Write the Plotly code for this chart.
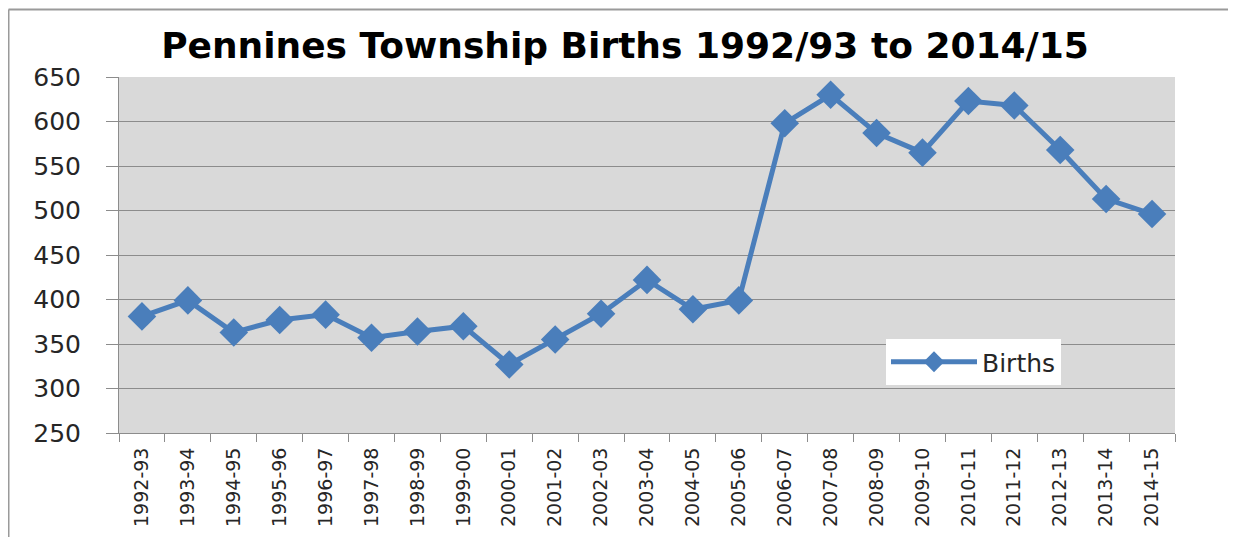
import plotly.graph_objects as go

years = ["1992-93", "1993-94", "1994-95", "1995-96", "1996-97", "1997-98", "1998-99",
         "1999-00", "2000-01", "2001-02", "2002-03", "2003-04", "2004-05", "2005-06",
         "2006-07", "2007-08", "2008-09", "2009-10", "2010-11", "2011-12", "2012-13",
         "2013-14", "2014-15"]
births = [381, 399, 363, 377, 383, 357, 364, 370, 327, 355, 384, 422, 389, 399,
          598, 630, 587, 565, 623, 618, 568, 513, 496]

title_text = "Pennines Township Births 1992/93 to 2014/15"
series_name = "Births"
y_ticks = [250, 300, 350, 400, 450, 500, 550, 600, 650]

OFF = 8  # page body margin
W, H = 1236 - OFF, 537 - OFF
# plot area in page pixels: left 119, right 1175, top 77, bottom 433
L, T = 119 - OFF, 77 - OFF
R = W - (1175 - OFF)
B = H - (433 - OFF)
pw, ph = W - L - R, H - T - B

def px_x(p):
    return (p - OFF - L) / pw

def px_y(p):
    return (H - B - (p - OFF)) / ph

blue = "#4a7ebb"
grey = "#8c8c8c"

fig = go.Figure()
fig.add_trace(go.Scatter(
    x=years, y=births, name=series_name, mode="lines+markers",
    line=dict(color=blue, width=5),
    marker=dict(symbol="diamond", size=22, color=blue),
))

fig.update_layout(
    width=W, height=H,
    margin=dict(l=L, r=R, t=T, b=B, autoexpand=False),
    paper_bgcolor="white",
    plot_bgcolor="#d9d9d9",
    font=dict(family="DejaVu Sans", color="#262626"),
    title=dict(text="<b>" + title_text + "</b>", x=(625 - OFF) / W, xanchor="center",
               y=1 - (45 - OFF) / H, yanchor="middle",
               font=dict(family="DejaVu Sans", size=36, color="black")),
    showlegend=True,
    legend=dict(x=px_x(886), y=px_y(339), xanchor="left", yanchor="top",
                bgcolor="white", borderwidth=0,
                font=dict(size=25, color="#262626"),
                itemwidth=86),
    xaxis=dict(type="category", range=[-0.5, len(years) - 0.5], showgrid=False,
               showline=True, linecolor=grey, automargin=False,
               linewidth=1, ticks="outside", tickson="boundaries", ticklen=8,
               tickcolor=grey, tickangle=-90, tickfont=dict(size=19, color="#262626"),
               ticklabelstandoff=6),
    yaxis=dict(range=[250, 650], tickvals=y_ticks, showgrid=True, gridcolor=grey,
               gridwidth=1, showline=True, linecolor=grey, linewidth=1,
               automargin=False,
               ticks="outside", ticklen=12, tickcolor=grey, ticklabelstandoff=20,
               tickfont=dict(size=25, color="#262626"), zeroline=False),
    shapes=[
        dict(type="line", xref="paper", yref="paper",
             x0=px_x(8.5), x1=px_x(8.5), y0=px_y(545), y1=px_y(9.5),
             line=dict(color="#9a9a9a", width=2)),
        dict(type="line", xref="paper", yref="paper",
             x0=px_x(8.5), x1=px_x(1245), y0=px_y(9.5), y1=px_y(9.5),
             line=dict(color="#9a9a9a", width=2)),
    ],
)

fig.write_html("out.html")
